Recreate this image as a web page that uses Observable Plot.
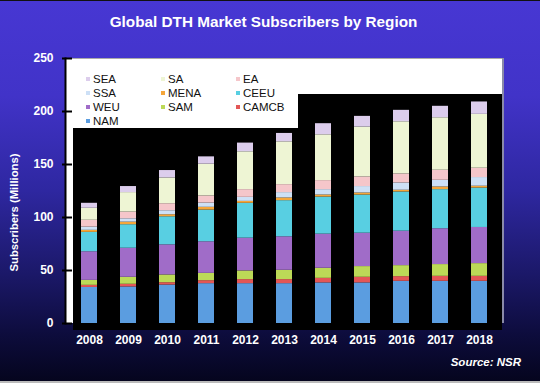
<!DOCTYPE html>
<html><head><meta charset="utf-8">
<script src="https://cdn.jsdelivr.net/npm/d3@7"></script>
<script src="https://cdn.jsdelivr.net/npm/@observablehq/plot@0.6"></script>
<style>
html,body{margin:0;padding:0;background:#05051f;}
#chart{position:relative;width:540px;height:383px;overflow:hidden;font-family:"Liberation Sans",Arial,sans-serif;
  background:linear-gradient(to bottom,#4737d3 0%,#4133c8 25%,#2e27a0 50%,#1b1868 72%,#0d0c3c 88%,#05051e 100%);
  box-sizing:border-box;border-top:1px solid #111;border-bottom:2px solid #bbb;}
#panel{position:absolute;left:65px;top:57px;width:437px;height:265px;background:#fff;border-top:1px solid #aaa;box-sizing:border-box;box-shadow:2px 0 0 #8a8aa8;}
#stairs{position:absolute;left:73px;top:93px;width:429px;height:236px;background:#000;
  clip-path:polygon(0 34px,225px 34px,225px 0,429px 0,429px 236px,0 236px);}
#title{position:absolute;left:0;top:12px;width:527px;text-align:center;color:#fff;font-weight:bold;font-size:15.3px;}
#legend{position:absolute;left:86px;top:71px;display:grid;grid-template-columns:75px 75px 75px;grid-auto-rows:14px;font-size:11.5px;color:#111;}
#legend div{display:flex;align-items:center;white-space:nowrap;}
#legend span.sw{display:inline-block;width:4px;height:4px;margin-right:3px;}
#source{position:absolute;right:19px;top:355px;color:#fff;font-weight:bold;font-style:italic;font-size:11.5px;}
#chart svg{position:absolute;left:0;top:0;}
</style></head>
<body><div id="chart">
<div id="panel"></div>
<div id="stairs"></div>
<div id="title">Global DTH Market Subscribers by Region</div>
<div id="legend"></div>
<div id="source">Source: NSR</div>
</div>
<script>
const years = ["2008","2009","2010","2011","2012","2013","2014","2015","2016","2017","2018"];
const regions = ["NAM","CAMCB","SAM","WEU","CEEU","MENA","SSA","EA","SA","SEA"];
const colors = ["#5b9de0","#e35656","#bcd957","#a06cc8","#58cfe2","#f5a63a","#cde0f6","#f5c6ca","#eef5d4","#dccdec"];
const yTicks = [0,50,100,150,200,250];

const NAM   = [34, 34.5, 36.3, 37.6, 37.6, 37.6, 38.3, 38.3, 39.8, 39.8, 39.8];
const CAMCB = [2, 2.5, 2.2, 2.8, 3.8, 3.8, 4.3, 5.3, 4.4, 4.7, 4.7];
const SAM   = [4.7, 6.6, 7.3, 6.9, 8.2, 8.8, 9.5, 10.1, 10.4, 11.1, 12];
const WEU   = [27, 27.4, 28.4, 29.8, 30.9, 31.6, 32.2, 31.5, 32.5, 33.8, 34.1];
const CEEU  = [18.3, 22.2, 26.5, 29.9, 32.9, 34.1, 35, 36, 37, 36.9, 37.2];
const MENA  = [1.9, 2.4, 1.9, 2.6, 1.8, 2.5, 1.9, 1.9, 1.6, 2.5, 1.7];
const SSA   = [3, 3.2, 3.8, 4, 3.8, 5.1, 5.1, 6.1, 6.9, 6.3, 8.2];
const EA    = [6.5, 6.3, 6.6, 6.7, 7.3, 7.5, 8.5, 9.1, 8.5, 9.5, 8.8];
const SA    = [11.3, 18.4, 24.3, 30, 35.7, 40.4, 43.2, 47, 49.2, 49.5, 50.8];
const SEA   = [4.7, 5.7, 7, 6.9, 8.2, 7.9, 10.5, 10.1, 10.8, 10.8, 11.7];

const series = {NAM, CAMCB, SAM, WEU, CEEU, MENA, SSA, EA, SA, SEA};
const rows = [];
for (const r of regions) years.forEach((y, i) => rows.push({year: y, region: r, value: series[r][i]}));

// legend
const legend = document.getElementById("legend");
regions.slice().reverse().forEach(r => {
  const d = document.createElement("div");
  const s = document.createElement("span");
  s.className = "sw"; s.style.background = colors[regions.indexOf(r)];
  d.appendChild(s); d.appendChild(document.createTextNode(r));
  legend.appendChild(d);
});

const chart = Plot.plot({
  width: 540, height: 383,
  marginLeft: 65, marginRight: 38, marginTop: 57, marginBottom: 61,
  style: {background: "transparent", overflow: "visible", fontFamily: "'Liberation Sans', Arial, sans-serif"},
  x: {domain: years, range: [66, 502], paddingInner: 0.6, paddingOuter: 0.305, label: null},
  y: {domain: [0, 250], label: null},
  color: {domain: regions, range: colors},
  marks: [
    Plot.barY(rows, {x: "year", y: "value", fill: "region", order: regions}),
    Plot.frame({anchor: "left", stroke: "black", strokeWidth: 2}),
    Plot.axisY({ticks: yTicks, tickSize: 10, dx: 7, text: null, stroke: "black", strokeWidth: 2, strokeOpacity: 1}),
    Plot.axisY({ticks: yTicks, tickSize: 0, tickPadding: 12, fill: "white", fontWeight: "bold", fontSize: 12, tickFormat: d => String(d)}),
    Plot.axisX({tickSize: 0, tickPadding: 12, fill: "white", fontWeight: "bold", fontSize: 12}),
    Plot.text(["Subscribers (Millions)"], {frameAnchor: "left", textAnchor: "middle", rotate: -90, dx: -51, dy: 21.5, fill: "white", fontWeight: "bold", fontSize: 11.3})
  ]
});
document.getElementById("chart").appendChild(chart);
</script>
</body></html>
